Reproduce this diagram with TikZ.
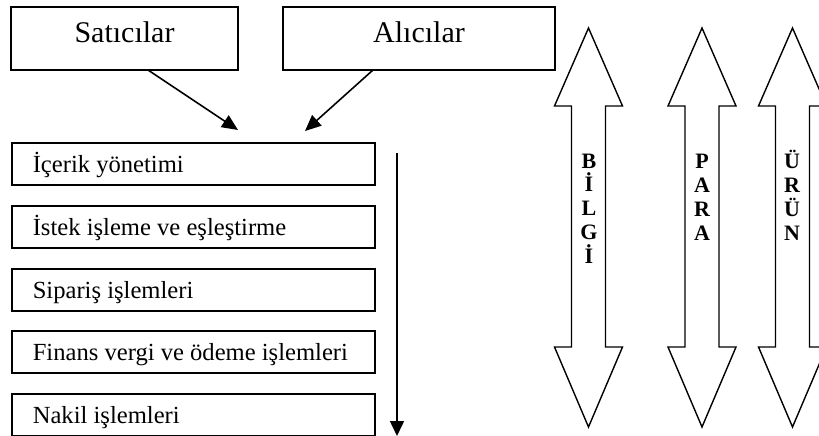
\documentclass[tikz,border=0pt]{standalone}
\usepackage{fontspec}
\setmainfont{Liberation Serif}
\usetikzlibrary{arrows.meta}
\begin{document}
\begin{tikzpicture}[x=1pt,y=-1pt,
  topbox/.style={draw, line width=1.6pt, minimum height=63pt, inner ysep=0pt,
    font=\fontsize{30}{36}\selectfont, text height=20pt, text depth=11pt},
  stepbox/.style={draw, line width=1.6pt, anchor=north west, minimum height=42pt,
    inner xsep=21pt, inner ysep=0pt, minimum width=363pt,
    font=\fontsize{24.6}{29}\selectfont, text height=21pt, text depth=3pt},
  conn/.style={line width=1.6pt, -{Triangle[length=16pt,width=14pt]}},
  dbl/.style={draw, line width=1.4pt, line join=miter},
  vlet/.style={font=\bfseries\fontsize{22}{23.75}\selectfont, align=center, inner sep=0pt}
]
\useasboundingbox (0,0) rectangle (819,436);
\clip (0,0) rectangle (819,436);
% top boxes
\node[topbox, minimum width=227pt] (sat) at (124.5,38.5) {Satıcılar};
\node[topbox, minimum width=272pt] (ali) at (419,38.5) {Alıcılar};
% step boxes
\node[stepbox] (b1) at (11,142) {\makebox[321pt][l]{İçerik yönetimi}};
\node[stepbox] (b2) at (11,205) {\makebox[321pt][l]{İstek işleme ve eşleştirme}};
\node[stepbox] (b3) at (11,268) {\makebox[321pt][l]{Sipariş işlemleri}};
\node[stepbox] (b4) at (11,330) {\makebox[321pt][l]{Finans vergi ve ödeme işlemleri}};
\node[stepbox] (b5) at (11,393) {\makebox[321pt][l]{Nakil işlemleri}};
% connectors
\coordinate (satout) at (148,70);
\coordinate (sattip) at (238,130);
\coordinate (aliout) at (373,70);
\coordinate (alitip) at (305,131);
\draw[conn] (satout) -- (sattip);
\draw[conn] (aliout) -- (alitip);
\coordinate (flowtop) at (397,153);
\coordinate (flowend) at (397,436);
\draw[conn, -{Triangle[length=15pt,width=14pt]}] (flowtop) -- (flowend);
% double arrows
\foreach \cx in {588.5,702,792.5}{
  \draw[dbl] (\cx,28) -- ++(34,78) -- ++(-17,0) -- ++(0,241) -- ++(17,0)
    -- ++(-34,80) -- ++(-34,-80) -- ++(17,0) -- ++(0,-241) -- ++(-17,0) -- cycle;
}
\node[vlet, anchor=base] (lbilgi) at (589,263) {B\\İ\\L\\G\\İ};
\node[vlet, anchor=base] (lpara) at (702,240) {P\\A\\R\\A};
\node[vlet, anchor=base] (lurun) at (792,240) {Ü\\R\\Ü\\N};
\end{tikzpicture}
\end{document}
